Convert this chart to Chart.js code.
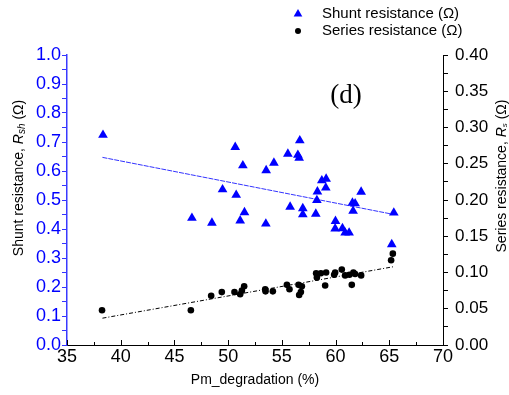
<!DOCTYPE html>
<html>
<head>
<meta charset="utf-8">
<script src="https://cdn.jsdelivr.net/npm/chart.js@4"></script>
<style>
  html, body { margin: 0; padding: 0; background: #fff; }
  #wrap { width: 509px; height: 395px; position: relative; }
</style>
</head>
<body>
<div id="wrap"><canvas id="myChart"></canvas></div>
<script>
// shunt resistance (left axis)
const pmShunt = [38.35, 46.63, 48.49, 49.48, 50.66, 50.75, 51.12, 51.37, 51.52, 53.51, 53.54, 54.26,
  55.56, 55.77, 56.49, 56.61, 56.67, 56.95, 56.95, 58.16, 58.26, 58.31, 58.72, 59.09, 59.12,
  59.96, 59.99, 60.64, 60.89, 61.26, 61.57, 61.63, 61.82, 62.38, 65.23, 65.42]
const rsh = [0.724, 0.438, 0.421, 0.536, 0.682, 0.517, 0.429, 0.619, 0.457, 0.418, 0.602, 0.628,
  0.659, 0.476, 0.655, 0.645, 0.705, 0.471, 0.450, 0.452, 0.499, 0.529, 0.567, 0.542, 0.573,
  0.401, 0.427, 0.402, 0.387, 0.387, 0.490, 0.462, 0.488, 0.528, 0.347, 0.456]

// series resistance (right axis)
const pmSeries = [38.26, 46.53, 48.42, 49.41, 50.59, 51.12, 51.28, 51.49, 53.45, 53.48, 54.16,
  55.47, 55.71, 56.55, 56.86, 56.77, 56.61, 58.19, 58.26, 58.63, 59.12, 59.03, 59.87, 59.96,
  60.58, 60.89, 61.29, 61.66, 61.82, 61.51, 62.38, 65.17, 65.33]
const rs = [0.048, 0.048, 0.068, 0.073, 0.073, 0.070, 0.075, 0.081, 0.077, 0.074, 0.074,
  0.083, 0.077, 0.083, 0.081, 0.073, 0.069, 0.099, 0.093, 0.099, 0.100, 0.082, 0.097, 0.100,
  0.104, 0.096, 0.097, 0.100, 0.098, 0.083, 0.096, 0.117, 0.126]

// linear fits
const shuntFitX = [38.3, 65.3]
const shuntFitY = [0.647, 0.451]
const seriesFitX = [38.3, 65.4]
const seriesFitY = [0.037, 0.108]

const xTicks = [35, 40, 45, 50, 55, 60, 65, 70]

const toPts = (xs, ys) => xs.map((x, i) => ({x: x, y: ys[i]}))
const SANS = '"Liberation Sans", Arial, sans-serif'

// draws a rotated title made of several font runs (for italic R and subscripts)
function drawVertTitle(ctx, parts, cx, cy) {
  ctx.save()
  ctx.translate(cx, cy)
  ctx.rotate(-Math.PI / 2)
  ctx.textBaseline = 'middle'
  ctx.fillStyle = '#000'
  let total = 0
  parts.forEach(p => { ctx.font = p.font; p.w = ctx.measureText(p.text).width; total += p.w })
  let x = -total / 2
  parts.forEach(p => {
    ctx.font = p.font
    ctx.fillText(p.text, x, p.dy || 0)
    x += p.w
  })
  ctx.restore()
}

const extras = {
  id: 'extras',
  afterDraw(chart) {
    const ctx = chart.ctx
    const xs = chart.scales.x
    // inward ticks on x axis
    ctx.save()
    ctx.strokeStyle = '#000'
    ctx.lineWidth = 1
    for (let v = 35; v <= 70; v += 2.5) {
      const px = Math.round(xs.getPixelForValue(v)) + 0.5
      const len = (v % 5 === 0) ? 5 : 3
      ctx.beginPath()
      ctx.moveTo(px, xs.top)
      ctx.lineTo(px, xs.top - len)
      ctx.stroke()
    }
    ctx.restore()

    // axis titles
    drawVertTitle(ctx, [
      {text: 'Shunt resistance, ', font: '14px ' + SANS},
      {text: 'R', font: 'italic 14px ' + SANS},
      {text: 'sh', font: 'italic 10px ' + SANS, dy: 3},
      {text: ' (Ω)', font: '14px ' + SANS}
    ], 19, 178)
    drawVertTitle(ctx, [
      {text: 'Series resistance, ', font: '14px ' + SANS},
      {text: 'R', font: 'italic 14px ' + SANS},
      {text: 's', font: 'italic 8px ' + SANS, dy: 3},
      {text: ' (Ω)', font: '14px ' + SANS}
    ], 502, 176)

    // panel letter
    ctx.save()
    ctx.font = '27px "Liberation Serif", serif'
    ctx.fillStyle = '#000'
    ctx.textAlign = 'center'
    ctx.textBaseline = 'middle'
    ctx.fillText('(d)', 346, 96)
    ctx.restore()

    // legend
    const ds = chart.data.datasets
    ctx.save()
    ctx.font = '15px ' + SANS
    ctx.textBaseline = 'middle'
    ctx.fillStyle = '#0000ff'
    const r = 5, tx = 298, ty = 14
    ctx.beginPath()
    ctx.moveTo(tx, ty - r)
    ctx.lineTo(tx + r * 0.866, ty + r / 2)
    ctx.lineTo(tx - r * 0.866, ty + r / 2)
    ctx.closePath()
    ctx.fill()
    ctx.fillStyle = '#000'
    ctx.beginPath()
    ctx.arc(298, 31, 3, 0, Math.PI * 2)
    ctx.fill()
    ctx.fillText(ds[0].label, 322, 14)
    ctx.fillText(ds[1].label, 322, 31)
    ctx.restore()
  }
}

const ctx = document.getElementById('myChart')
new Chart(ctx, {
  type: 'scatter',
  data: {
    datasets: [{
      label: 'Shunt resistance (Ω)',
      data: toPts(pmShunt, rsh),
      yAxisID: 'y',
      pointStyle: 'triangle',
      pointRadius: 5.6,
      backgroundColor: '#0000ff',
      borderColor: '#0000ff',
      borderWidth: 0
    },
    {
      label: 'Series resistance (Ω)',
      data: toPts(pmSeries, rs),
      yAxisID: 'y1',
      pointStyle: 'circle',
      pointRadius: 3.3,
      backgroundColor: '#000',
      borderColor: '#000',
      borderWidth: 0
    },
    {
      label: 'shunt fit',
      type: 'line',
      data: toPts(shuntFitX, shuntFitY),
      yAxisID: 'y',
      borderColor: '#3333ff',
      borderWidth: 1,
      borderDash: [5, 1],
      pointRadius: 0,
      fill: false
    },
    {
      label: 'series fit',
      type: 'line',
      data: toPts(seriesFitX, seriesFitY),
      yAxisID: 'y1',
      borderColor: '#000',
      borderWidth: 1,
      borderDash: [4, 2, 1, 2],
      pointRadius: 0,
      fill: false
    }]
  },
  options: {
    responsive: true,
    maintainAspectRatio: false,
    animation: false,
    layout: { padding: { top: 55, left: 0, right: 0, bottom: 0 } },
    plugins: {
      legend: { display: false },
      tooltip: { enabled: false }
    },
    scales: {
      x: {
        type: 'linear',
        min: 35,
        max: 70,
        afterBuildTicks: s => { s.ticks = xTicks.map(v => ({value: v})) },
        afterFit: s => { s.height = 50 },
        ticks: { color: '#000', font: { family: SANS, size: 18 }, padding: 1 },
        grid: { drawOnChartArea: false, drawTicks: false },
        border: { color: '#000', width: 1 },
        title: {
          display: true,
          text: 'Pm_degradation (%)',
          color: '#000',
          font: { family: SANS, size: 14 },
          padding: { top: 0, bottom: 6 }
        }
      },
      y: {
        position: 'left',
        min: 0,
        max: 1,
        afterFit: s => { s.width = 67 },
        ticks: {
          stepSize: 0.05,
          autoSkip: false,
          color: '#0000ff',
          padding: 1,
          font: { family: SANS, size: 18 },
          callback: v => (Math.round(v * 100) % 10 === 0) ? v.toFixed(1) : ''
        },
        grid: { drawOnChartArea: false, tickLength: 5, color: '#3333ff' },
        border: { color: '#3a3aff', width: 1.5 }
      },
      y1: {
        position: 'right',
        min: 0,
        max: 0.4,
        afterFit: s => { s.width = 66 },
        ticks: {
          stepSize: 0.025,
          autoSkip: false,
          color: '#000',
          padding: 7,
          font: { family: SANS, size: 17 },
          callback: v => (Math.round(v * 1000) % 50 === 0) ? v.toFixed(2) : ''
        },
        grid: { drawOnChartArea: false, tickLength: 5, color: '#000' },
        border: { color: '#000', width: 1 }
      }
    }
  },
  plugins: [extras]
})
</script>
</body>
</html>
